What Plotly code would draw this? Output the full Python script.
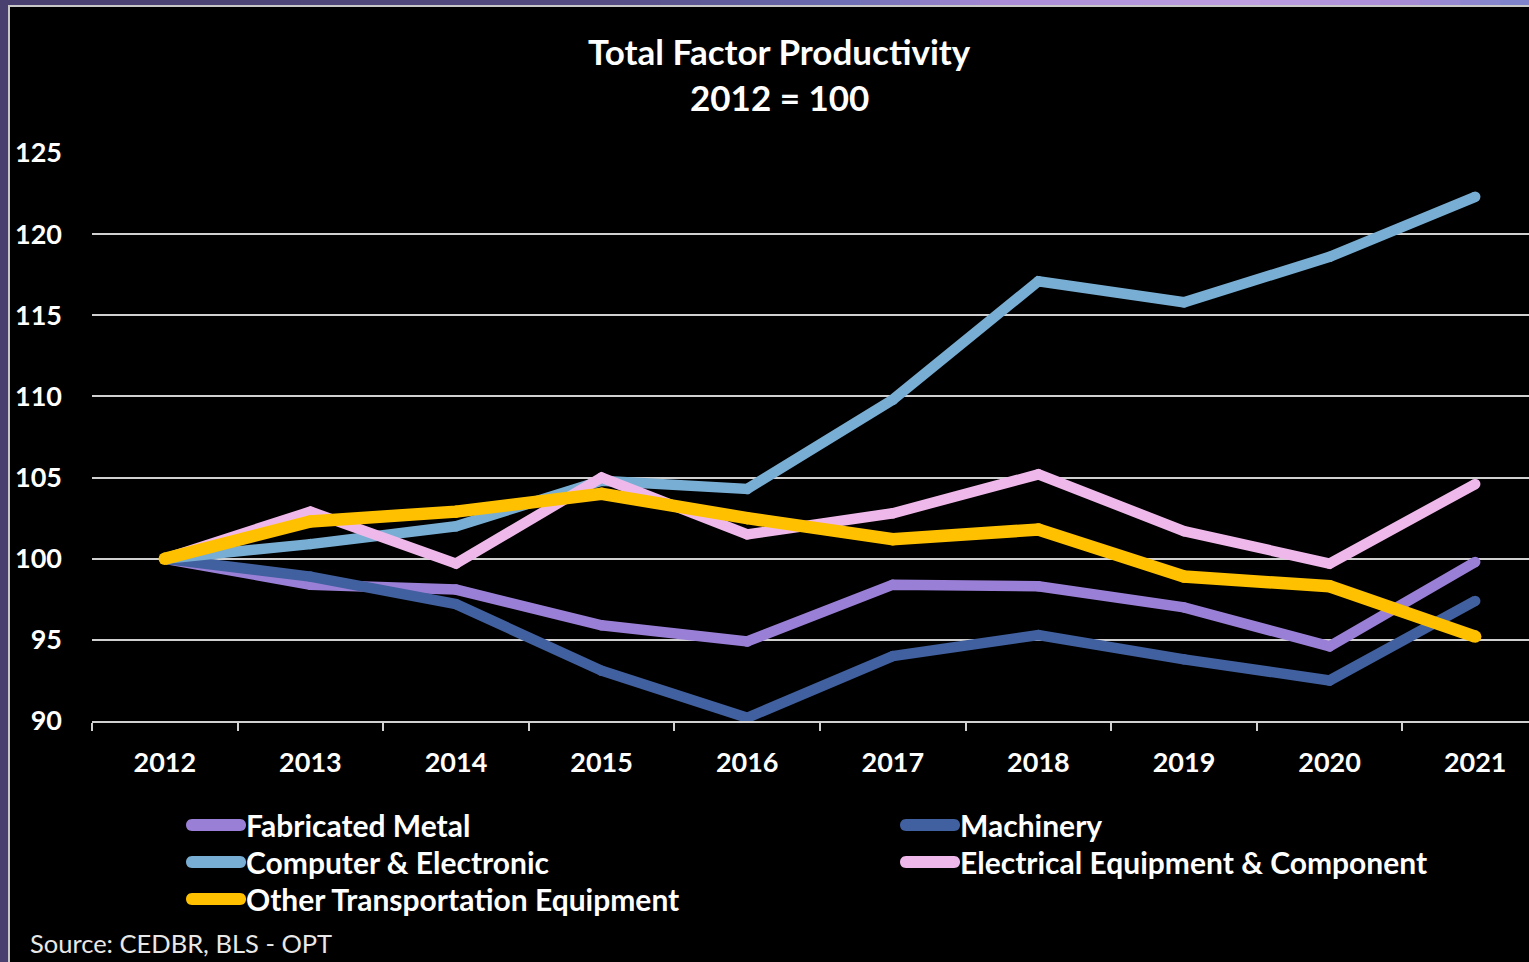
import plotly.graph_objects as go

# ---- data -------------------------------------------------------------
years = ["2012", "2013", "2014", "2015", "2016", "2017", "2018", "2019", "2020", "2021"]

fabricated_metal = [100.0, 98.4, 98.1, 95.9, 94.9, 98.4, 98.3, 97.0, 94.6, 99.8]
machinery = [100.0, 98.9, 97.2, 93.1, 90.2, 94.0, 95.3, 93.8, 92.5, 97.4]
computer_electronic = [100.0, 100.9, 102.0, 104.8, 104.3, 109.8, 117.1, 115.8, 118.6, 122.3]
electrical_equipment = [100.0, 102.9, 99.7, 105.0, 101.5, 102.8, 105.2, 101.7, 99.7, 104.6]
other_transportation = [100.0, 102.3, 102.9, 104.0, 102.5, 101.2, 101.8, 98.9, 98.3, 95.2]

series_names = [
    "Fabricated Metal",
    "Machinery",
    "Computer & Electronic",
    "Electrical Equipment & Component",
    "Other Transportation Equipment",
]
series_values = [fabricated_metal, machinery, computer_electronic,
                 electrical_equipment, other_transportation]
series_colors = ["#9a7fd6", "#41609f", "#78aed3", "#efb8ea", "#ffc000"]
series_widths = [10.5, 10.5, 10.5, 10.5, 12.5]

y_ticks = [90, 95, 100, 105, 110, 115, 120, 125]

# ---- geometry helpers (pixel -> paper) --------------------------------
W, H = 1529, 962
ML, MR, MT, MB = 92, 0, 153, 241
PW, PH = W - ML - MR, H - MT - MB


def px(x):
    return (x - ML) / PW


def py(y):
    return (H - MB - y) / PH


FONT = "Lato"
WHITE = "#ffffff"
GRID = "#d0d0d0"

fig = go.Figure()

for name, vals, col, lw in zip(series_names, series_values, series_colors, series_widths):
    fig.add_trace(go.Scatter(
        x=years, y=vals, name=name, mode="lines+markers",
        line=dict(color=col, width=lw),
        marker=dict(color=col, size=lw, line=dict(width=0)),
        cliponaxis=False, showlegend=False, hoverinfo="x+y+name",
    ))

shapes = []

# frame of the chart area over the page background
shapes.append(dict(type="rect", xref="paper", yref="paper", layer="below",
                   x0=px(9), x1=px(W + 40), y0=py(H + 40), y1=py(6),
                   fillcolor="#000000", line=dict(color="#c8c8c8", width=2)))

# decorative page background strip along the top edge
strip_stops = [(0, (74, 64, 112)), (600, (84, 76, 130)), (850, (110, 110, 180)),
               (1000, (170, 140, 215)), (1250, (190, 160, 225)), (1400, (170, 140, 215)),
               (1529, (120, 130, 200))]
seg = 20
for x0 in range(0, W, seg):
    xm = x0 + seg / 2
    for (a, ca), (b, cb) in zip(strip_stops[:-1], strip_stops[1:]):
        if a <= xm <= b:
            t = (xm - a) / (b - a)
            c = tuple(int(ca[i] + (cb[i] - ca[i]) * t) for i in range(3))
            break
    shapes.append(dict(type="rect", xref="paper", yref="paper", layer="below",
                       x0=px(x0), x1=px(x0 + seg), y0=py(5), y1=py(-2),
                       fillcolor="rgb(%d,%d,%d)" % c, line=dict(width=0)))

annotations = []

# title
annotations.append(dict(text="<b>Total Factor Productivity</b>", xref="paper", yref="paper",
                        x=px(779), y=py(51), showarrow=False, xanchor="center", yanchor="middle",
                        font=dict(family=FONT, size=35, color=WHITE)))
annotations.append(dict(text="<b>2012 = 100</b>", xref="paper", yref="paper",
                        x=px(779), y=py(97), showarrow=False, xanchor="center", yanchor="middle",
                        font=dict(family=FONT, size=35, color=WHITE)))

# legend, two columns
legend_cols = [186, 900]
legend_rows = [825, 862, 899]
pill = "M -24,-6 L 24,-6 C 32,-6 32,6 24,6 L -24,6 C -32,6 -32,-6 -24,-6 Z"
for i, (name, col) in enumerate(zip(series_names, series_colors)):
    cx = legend_cols[i % 2]
    cy = legend_rows[i // 2]
    shapes.append(dict(type="path", xref="paper", yref="paper",
                       xsizemode="pixel", ysizemode="pixel",
                       xanchor=px(cx + 30), yanchor=py(cy), path=pill,
                       fillcolor=col, line=dict(width=0)))
    annotations.append(dict(text="<b>%s</b>" % name, xref="paper", yref="paper",
                            x=px(cx + 58), y=py(cy), showarrow=False,
                            xanchor="left", yanchor="middle",
                            font=dict(family=FONT, size=30, color=WHITE)))

# source note
annotations.append(dict(text="Source: CEDBR, BLS - OPT", xref="paper", yref="paper",
                        x=px(28), y=py(943), showarrow=False, xanchor="left", yanchor="middle",
                        font=dict(family=FONT, size=25.5, color="#e8e8e8")))

TICKFONT = dict(family=FONT, size=27, color=WHITE, weight="bold")

fig.update_layout(
    width=W, height=H,
    margin=dict(l=ML, r=MR, t=MT, b=MB, pad=0),
    paper_bgcolor="#4a4070",
    plot_bgcolor="rgba(0,0,0,0)",
    shapes=shapes,
    annotations=annotations,
    showlegend=False,
    xaxis=dict(
        type="category", range=[-0.5, -0.5 + PW / 145.6],
        tickson="boundaries", ticks="outside", ticklen=8, tickwidth=2, tickcolor=GRID,
        showline=True, linecolor=GRID, linewidth=2, showgrid=False, zeroline=False,
        tickfont=TICKFONT, ticklabelstandoff=17,
    ),
    yaxis=dict(
        range=[90, 125], tickvals=y_ticks, ticktext=[str(v) for v in y_ticks],
        showgrid=True, gridcolor=GRID, gridwidth=2, zeroline=False, showline=False,
        ticks="", tickfont=TICKFONT, ticklabelstandoff=29,
    ),
)

fig.write_html("out.html")
